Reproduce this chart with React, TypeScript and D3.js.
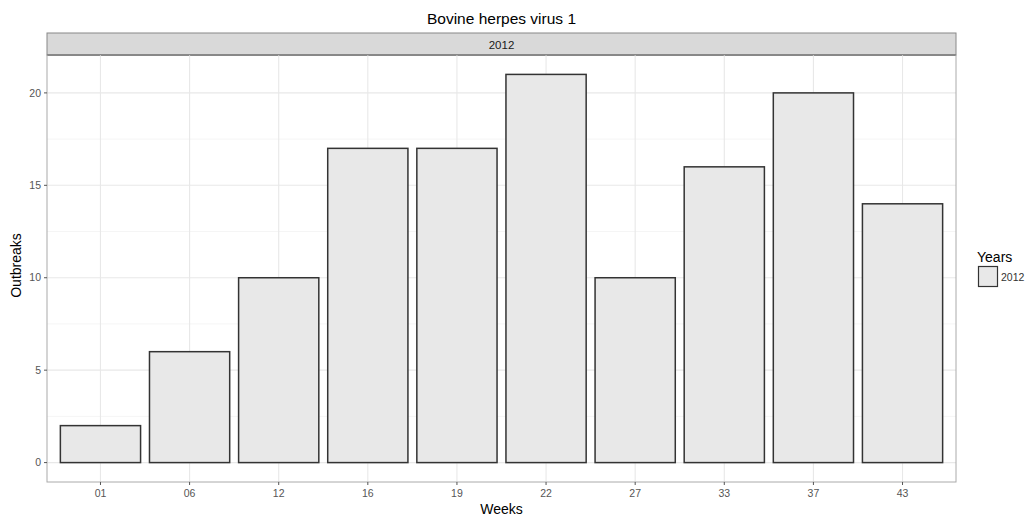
import React from "react";
import * as d3 from "d3";

const weeks = ["01", "06", "12", "16", "19", "22", "27", "33", "37", "43"];
const outbreaks = [2, 6, 10, 17, 17, 21, 10, 16, 20, 14];
const yTicks = [0, 5, 10, 15, 20];
const yMinor = [2.5, 7.5, 12.5, 17.5];
const title = "Bovine herpes virus 1";
const stripLabel = "2012";
const legendTitle = "Years";
const legendLabel = "2012";

export default function App() {
  const W = 1030, H = 519;
  const pL = 47, pR = 956, pT = 55, pB = 482;
  const stripTop = 33;
  const yMax = 21;
  const y = d3.scaleLinear().domain([-yMax * 0.05, yMax * 1.05]).range([pB, pT]);
  const step = (pR - pL) / (weeks.length - 1 + 1.2);
  const x = d3.scalePoint<string>().domain(weeks).range([pL + 0.6 * step, pR - 0.6 * step]);
  const bw = step * 0.9;
  const font = "Liberation Sans, Arial, sans-serif";
  return (
    <svg width={W} height={H} style={{ position: "absolute", left: 0, top: 0 }} fontFamily={font}>
      <rect x={0} y={0} width={W} height={H} fill="white" />
      <text x={(pL + pR) / 2} y={24} textAnchor="middle" fontSize={15.5} fill="#000">{title}</text>
      {/* strip */}
      <rect x={pL} y={stripTop} width={pR - pL} height={pT - stripTop} fill="#d9d9d9" stroke="#888" strokeWidth={1} />
      <line x1={pL} x2={pR} y1={pT} y2={pT} stroke="#666" strokeWidth={2} />
      <text x={(pL + pR) / 2} y={48.5} textAnchor="middle" fontSize={11.5} fill="#1a1a1a">{stripLabel}</text>
      {/* grid */}
      {yMinor.map((v) => (
        <line key={"mn" + v} x1={pL} x2={pR} y1={y(v)} y2={y(v)} stroke="#f2f2f2" strokeWidth={0.8} />
      ))}
      {yTicks.map((v) => (
        <line key={"mj" + v} x1={pL} x2={pR} y1={y(v)} y2={y(v)} stroke="#e8e8e8" strokeWidth={1.1} />
      ))}
      {weeks.map((w) => (
        <line key={"gx" + w} x1={x(w)!} x2={x(w)!} y1={pT} y2={pB} stroke="#e8e8e8" strokeWidth={1.1} />
      ))}
      {/* bars */}
      {weeks.map((w, i) => (
        <rect key={"b" + w} x={x(w)! - bw / 2} y={y(outbreaks[i])} width={bw} height={y(0) - y(outbreaks[i])}
          fill="#e8e8e8" stroke="#333" strokeWidth={1.5} />
      ))}
      {/* panel border */}
      <rect x={pL} y={pT} width={pR - pL} height={pB - pT} fill="none" stroke="#aaa" strokeWidth={1} />
      {/* y axis */}
      {yTicks.map((v) => (
        <g key={"yt" + v}>
          <line x1={pL - 3} x2={pL} y1={y(v)} y2={y(v)} stroke="#555" />
          <text x={pL - 6} y={y(v)} dy="0.35em" textAnchor="end" fontSize={10.5} fill="#555">{v}</text>
        </g>
      ))}
      {weeks.map((w) => (
        <g key={"xt" + w}>
          <line x1={x(w)!} x2={x(w)!} y1={pB} y2={pB + 3} stroke="#555" />
          <text x={x(w)!} y={pB + 15} textAnchor="middle" fontSize={10.5} fill="#555">{w}</text>
        </g>
      ))}
      <text x={(pL + pR) / 2} y={514} textAnchor="middle" fontSize={14} fill="#000">Weeks</text>
      <text transform={`translate(21,${(pT + pB) / 2 - 3}) rotate(-90)`} textAnchor="middle" fontSize={14} fill="#000">Outbreaks</text>
      {/* legend */}
      <text x={977} y={262} fontSize={14} fill="#000">{legendTitle}</text>
      <rect x={978.5} y={266.5} width={19} height={20} fill="#e8e8e8" stroke="#333" strokeWidth={1.2} />
      <text x={1001} y={281} fontSize={10.5} fill="#333">{legendLabel}</text>
    </svg>
  );
}
